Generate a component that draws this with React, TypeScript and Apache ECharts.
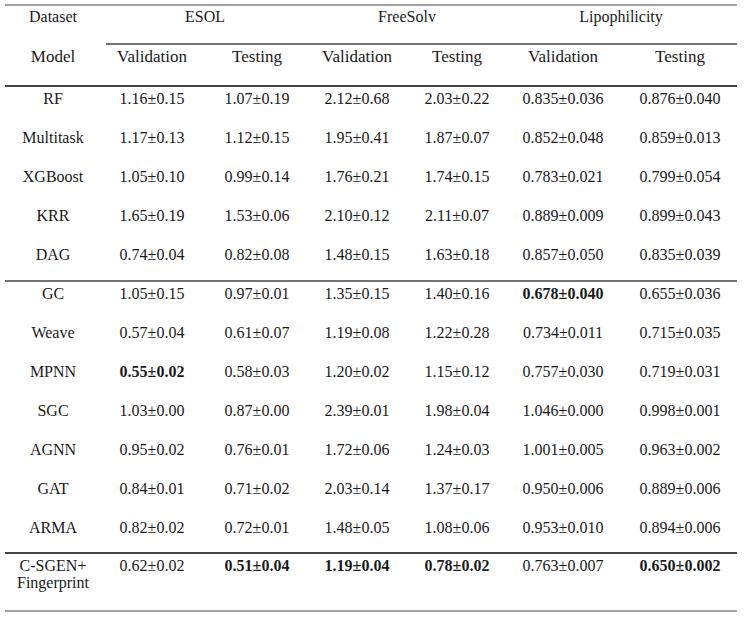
import React, { useEffect, useRef } from "react";
import * as echarts from "echarts";

// ---------- data ----------
const datasets = ["ESOL", "FreeSolv", "Lipophilicity"];
const splits = ["Validation", "Testing"];
const models = ["RF", "Multitask", "XGBoost", "KRR", "DAG", "GC", "Weave", "MPNN", "SGC", "AGNN", "GAT", "ARMA", "C-SGEN+\nFingerprint"];

const esolValMean = [1.16, 1.17, 1.05, 1.65, 0.74, 1.05, 0.57, 0.55, 1.03, 0.95, 0.84, 0.82, 0.62];
const esolValStd = [0.15, 0.13, 0.10, 0.19, 0.04, 0.15, 0.04, 0.02, 0.00, 0.02, 0.01, 0.02, 0.02];
const esolTestMean = [1.07, 1.12, 0.99, 1.53, 0.82, 0.97, 0.61, 0.58, 0.87, 0.76, 0.71, 0.72, 0.51];
const esolTestStd = [0.19, 0.15, 0.14, 0.06, 0.08, 0.01, 0.07, 0.03, 0.00, 0.01, 0.02, 0.01, 0.04];
const freeValMean = [2.12, 1.95, 1.76, 2.10, 1.48, 1.35, 1.19, 1.20, 2.39, 1.72, 2.03, 1.48, 1.19];
const freeValStd = [0.68, 0.41, 0.21, 0.12, 0.15, 0.15, 0.08, 0.02, 0.01, 0.06, 0.14, 0.05, 0.04];
const freeTestMean = [2.03, 1.87, 1.74, 2.11, 1.63, 1.40, 1.22, 1.15, 1.98, 1.24, 1.37, 1.08, 0.78];
const freeTestStd = [0.22, 0.07, 0.15, 0.07, 0.18, 0.16, 0.28, 0.12, 0.04, 0.03, 0.17, 0.06, 0.02];
const lipoValMean = [0.835, 0.852, 0.783, 0.889, 0.857, 0.678, 0.734, 0.757, 1.046, 1.001, 0.950, 0.953, 0.763];
const lipoValStd = [0.036, 0.048, 0.021, 0.009, 0.050, 0.040, 0.011, 0.030, 0.000, 0.005, 0.006, 0.010, 0.007];
const lipoTestMean = [0.876, 0.859, 0.799, 0.899, 0.835, 0.655, 0.715, 0.719, 0.998, 0.963, 0.889, 0.894, 0.650];
const lipoTestStd = [0.040, 0.013, 0.054, 0.043, 0.039, 0.036, 0.035, 0.031, 0.001, 0.002, 0.006, 0.006, 0.002];

// best results (row index, column index 0..5) shown in bold
const boldCells: [number, number][] = [[7, 0], [5, 4], [12, 1], [12, 2], [12, 3], [12, 5]];

const columns = [
  { mean: esolValMean, std: esolValStd, digits: 2 },
  { mean: esolTestMean, std: esolTestStd, digits: 2 },
  { mean: freeValMean, std: freeValStd, digits: 2 },
  { mean: freeTestMean, std: freeTestStd, digits: 2 },
  { mean: lipoValMean, std: lipoValStd, digits: 3 },
  { mean: lipoTestMean, std: lipoTestStd, digits: 3 },
];

// ---------- layout ----------
const W = 744;
const H = 619;
const colX = [53, 152, 257, 357, 457, 563, 680];
const groupX = [205, 407, 621];
const headY1 = 16;
const headY2 = 56;
const rowY0 = 98;
const rowStep = 39;
const lastRowY = 565;
const tableLeft = 5;
const tableRight = 737;
const groupLineLeft = 106;
const rules = [
  { y: 5, x0: tableLeft, w: 1 },
  { y: 44, x0: groupLineLeft, w: 1.3 },
  { y: 86, x0: tableLeft, w: 2 },
  { y: 281, x0: tableLeft, w: 1.3 },
  { y: 553, x0: tableLeft, w: 2 },
  { y: 611, x0: tableLeft, w: 1 },
];

const FONT = "Liberation Serif";
const TEXT_COLOR = "#1a1a1a";
const LINE_COLOR = "#444";
const HEAD_SIZE = 16;
const BODY_SIZE = 16;

type Cell = { x: number; y: number; text: string; bold: boolean; size: number };

function buildCells(): Cell[] {
  const cells: Cell[] = [];
  cells.push({ x: colX[0], y: headY1, text: "Dataset", bold: false, size: HEAD_SIZE });
  datasets.forEach((d, i) => cells.push({ x: groupX[i], y: headY1, text: d, bold: false, size: HEAD_SIZE }));
  cells.push({ x: colX[0], y: headY2, text: "Model", bold: false, size: 17 });
  for (let c = 0; c < 6; c++) {
    cells.push({ x: colX[c + 1], y: headY2, text: splits[c % 2], bold: false, size: 17 });
  }
  models.forEach((m, r) => {
    const y = r === models.length - 1 ? lastRowY : rowY0 + r * rowStep;
    if (m.includes("\n")) {
      const parts = m.split("\n");
      cells.push({ x: colX[0], y, text: parts[0], bold: false, size: BODY_SIZE });
      cells.push({ x: colX[0], y: y + 17, text: parts[1], bold: false, size: BODY_SIZE });
    } else {
      cells.push({ x: colX[0], y, text: m, bold: false, size: BODY_SIZE });
    }
    columns.forEach((col, c) => {
      const text = col.mean[r].toFixed(col.digits) + "±" + col.std[r].toFixed(col.digits);
      const bold = boldCells.some(([br, bc]) => br === r && bc === c);
      cells.push({ x: colX[c + 1], y, text, bold, size: BODY_SIZE });
    });
  });
  return cells;
}

export default function App() {
  const ref = useRef<HTMLDivElement>(null);
  useEffect(() => {
    if (!ref.current) return;
    const chart = echarts.init(ref.current, undefined, { renderer: "svg" });
    const cells = buildCells();
    chart.setOption({
      animation: false,
      backgroundColor: "#ffffff",
      grid: { left: 0, right: 0, top: 0, bottom: 0 },
      xAxis: { type: "value", min: 0, max: W, show: false },
      yAxis: { type: "value", min: 0, max: H, inverse: true, show: false },
      series: [
        {
          type: "custom",
          silent: true,
          data: rules.map((r) => [r.x0, r.y]),
          renderItem: (params: any, api: any) => {
            const r = rules[params.dataIndex];
            const p0 = api.coord([r.x0, r.y]);
            const p1 = api.coord([tableRight, r.y]);
            return {
              type: "line",
              shape: { x1: p0[0], y1: p0[1], x2: p1[0], y2: p1[1] },
              style: { stroke: LINE_COLOR, lineWidth: r.w },
            };
          },
        },
        {
          type: "custom",
          silent: true,
          data: cells.map((c) => [c.x, c.y]),
          renderItem: (params: any, api: any) => {
            const c = cells[params.dataIndex];
            const p = api.coord([c.x, c.y]);
            return {
              type: "text",
              x: p[0],
              y: p[1],
              style: {
                text: c.text,
                fill: TEXT_COLOR,
                fontFamily: FONT,
                fontSize: c.size,
                fontWeight: c.bold ? "bold" : "normal",
                align: "center",
                verticalAlign: "middle",
              },
            };
          },
        },
      ],
    });
    return () => chart.dispose();
  }, []);
  return (
    <div
      ref={ref}
      style={{ position: "fixed", left: 0, top: 0, width: W, height: H, background: "#fff" }}
    />
  );
}
